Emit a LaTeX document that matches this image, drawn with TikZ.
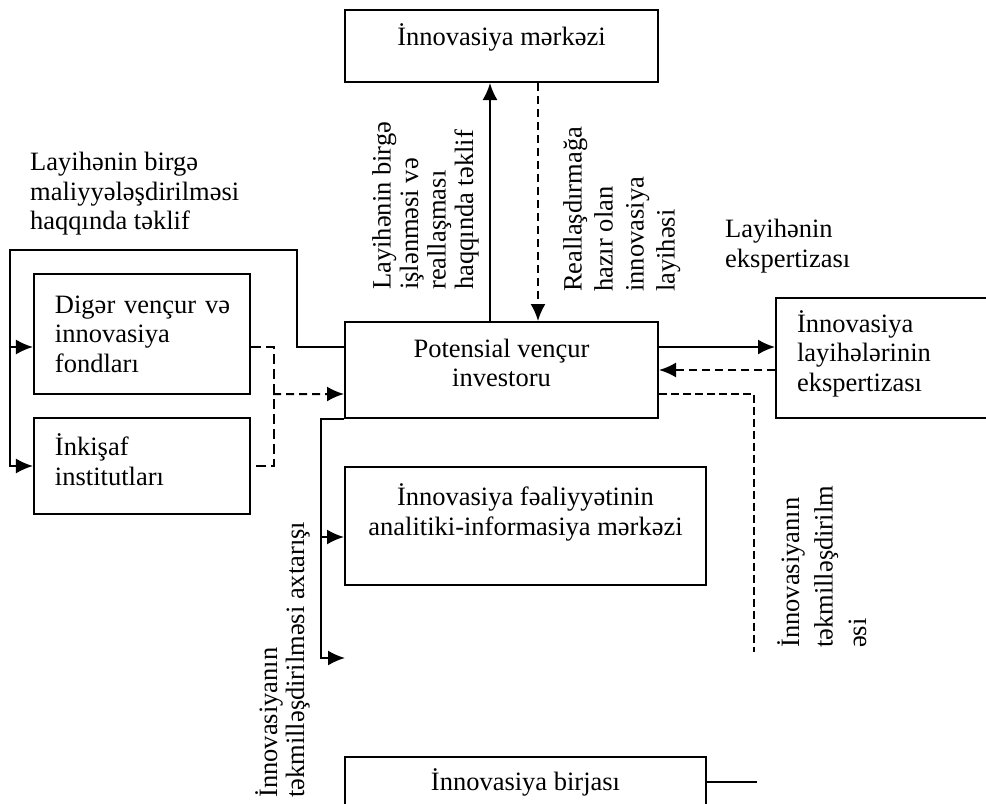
\documentclass[tikz,border=0pt]{standalone}
\usepackage{fontspec}
\setmainfont{Liberation Serif}
\usetikzlibrary{
  arrows.meta,%
  calc,%
  positioning
}
\tikzset{>={Latex[length=17bp,width=15bp]}}
\tikzset{font=\fontsize{26.5bp}{29.5bp}\selectfont}
\tikzset{
  blok/.style={draw, line width=2bp, inner sep=0pt, align=center},
  solblok/.style={blok, align=left, inner xsep=21bp},
  xett/.style={line width=2bp},
  qirik/.style={line width=2bp, dash pattern=on 8bp off 5bp},
  nazikqirik/.style={line width=1.3bp, dash pattern=on 8bp off 4bp},
  noqteli/.style={line width=1.5bp, dash pattern=on 10bp off 5bp},
  yazi/.style={inner sep=0pt, align=left},
  sutun/.style={yazi, rotate=90, anchor=north west}
}

\begin{document}
\begin{tikzpicture}[x=1bp, y=-1bp]
  \useasboundingbox (0,0) rectangle (986,804);
  % bloklar
  \node[blok, minimum width=313bp, minimum height=72bp, text depth=22bp] (merkez) at (501.5,46) {İnnovasiya mərkəzi};
  \node[blok, minimum width=313bp, minimum height=96bp, text depth=14bp] (investor) at (501.5,370) {Potensial vençur\\investoru};
  \node[solblok, text width=174bp, minimum height=120bp] (diger) at (142,334) {Digər~vençur~və\\innovasiya\\fondları};
  \node[solblok, text width=174bp, minimum height=96bp, text depth=42bp] (inkisaf) at (142,466) {İnkişaf\\institutları};
  \node[solblok, text width=190bp, minimum height=120bp, text depth=73bp] (ekspert) at (892,358) {İnnovasiya\\layihələrinin\\ekspertizası};
  \node[blok, minimum width=361bp, minimum height=118bp, text depth=33bp] (analitik) at (525.5,526) {İnnovasiya fəaliyyətinin\\analitiki-informasiya mərkəzi};
  \node[blok, minimum width=361bp, minimum height=66bp, text depth=20bp] (birja) at (525.5,790) {İnnovasiya birjası};

  % yazilar
  \node[yazi, anchor=north west] (maliyye) at (30,152) {Layihənin birgə\\maliyyələşdirilməsi\\haqqında təklif};
  \node[yazi, anchor=north west] (ekspertiza) at (725,219) {Layihənin\\ekspertizası};
  \node[sutun, font=\fontsize{26.5bp}{27.5bp}\selectfont] (isleme) at (372,290) {Layihənin birgə\\işlənməsi və\\reallaşması\\haqqında təklif};
  \node[sutun, font=\fontsize{26.5bp}{31bp}\selectfont] (hazir) at (563,292) {Reallaşdırmağa\\hazır olan\\innovasiya\\layihəsi};
  \node[sutun, font=\fontsize{26.5bp}{33.5bp}\selectfont] (tekmil1) at (777,648) {İnnovasiyanın\\təkmilləşdirilm\\əsi};
  \node[sutun, font=\fontsize{26.5bp}{27bp}\selectfont] (tekmil2) at (255,798) {İnnovasiyanın\\təkmilləşdirilməsi axtarışı};

  % yuxari
  \draw[xett, ->] ([xshift=-11.5bp]investor.north) -- ([xshift=-11.5bp]merkez.south);
  \draw[qirik, ->] ([xshift=36.5bp]merkez.south) -- ([xshift=36.5bp]investor.north);

  % sag
  \draw[xett, ->] ([yshift=23bp]investor.east) -- ([yshift=23bp]investor.east -| ekspert.west);
  \draw[qirik, ->] (ekspert.west |- investor.east) -- (investor.east);
  \coordinate (tekmil) at (754,652);
  \draw[nazikqirik] ([yshift=-24bp]investor.east) -| (tekmil);

  % sol dovre
  \coordinate (sol) at (10,250);
  \draw[xett, ->] ([yshift=23bp]investor.west) -- ++(-47,0) |- (sol) |- (inkisaf.west);
  \draw[xett, ->] ([yshift=-13bp]diger.west) ++(-24,0) -- ([yshift=-13bp]diger.west);
  \draw[noqteli] ([yshift=-13bp]diger.east) -- ++(23,0) |- (inkisaf.east);
  \coordinate (birles) at (273,394);
  \draw[qirik, ->] (birles) -- ([yshift=-24bp]investor.west);

  % asagi
  \coordinate (axtaris) at (345,658);
  \draw[xett, ->] (investor.south west) -- ++(-23,0) |- (axtaris);
  \draw[xett, ->] ([yshift=-11bp]analitik.west) ++(-23,0) -- ([yshift=-11bp]analitik.west);
  \draw[xett] ([yshift=8bp]birja.east) -- ++(50,0);
\end{tikzpicture}
\end{document}
